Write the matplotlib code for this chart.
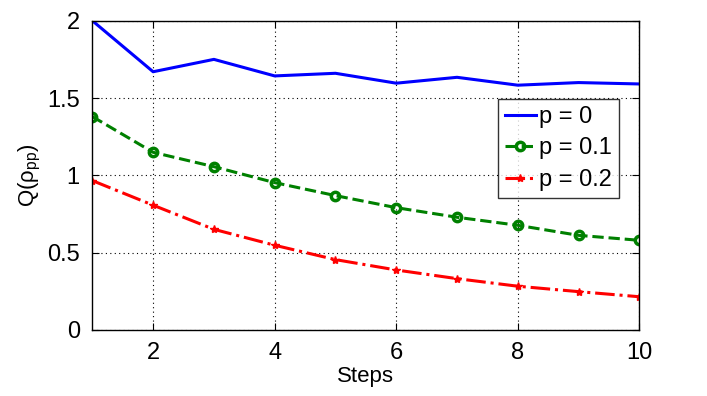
import numpy as np
import matplotlib.pyplot as plt

plt.rcParams['font.family'] = ['Liberation Sans', 'DejaVu Sans']

steps = np.arange(1, 11)
q_p0 = [2.0, 1.67, 1.75, 1.643, 1.66, 1.596, 1.634, 1.583, 1.60, 1.591]
q_p01 = [1.38, 1.149, 1.056, 0.953, 0.869, 0.791, 0.729, 0.677, 0.612, 0.58]
q_p02 = [0.966, 0.807, 0.651, 0.548, 0.455, 0.388, 0.332, 0.283, 0.248, 0.215]

fig = plt.figure(figsize=(7.07, 3.96), dpi=100)
ax = fig.add_axes([0.1306, 0.1667, 0.7737, 0.781])

ax.plot(steps, q_p0, color='#0000ff', lw=2.2, label='p = 0')
ax.plot(steps, q_p01, color='#008000', lw=2.2, ls='--', marker='o',
        markersize=6, markeredgewidth=2.5, markerfacecolor='none', label='p = 0.1')
ax.plot(steps, q_p02, color='#ff0000', lw=2.2, ls='-.', marker='*',
        markersize=6, label='p = 0.2')

ax.set_xlim(1, 10)
ax.set_ylim(0, 2)
ax.set_xticks([2, 4, 6, 8, 10])
ax.set_yticks([0, 0.5, 1, 1.5, 2])
ax.set_yticklabels(['0', '0.5', '1', '1.5', '2'])
ax.grid(True, color='black', ls=(0, (1, 3)), lw=0.8)
ax.tick_params(direction='in', top=True, right=True, labelsize=17, length=5, pad=9)
for s in ax.spines.values():
    s.set_linewidth(1.0)

ax.set_xlabel('Steps', fontsize=16, labelpad=1)
ax.set_ylabel(r'Q($\mathregular{\rho_{pp}}$)', fontsize=16)
ax.yaxis.set_label_coords(-0.09, 0.5)

leg = ax.legend(loc='upper right', bbox_to_anchor=(0.963, 0.747), fontsize=17,
                frameon=True, fancybox=False, edgecolor='black', handlelength=1.3,
                handletextpad=0.15, borderpad=0.3, labelspacing=0.4, borderaxespad=0)
leg.get_frame().set_linewidth(1.0)

fig.savefig('out.png', dpi=100)
